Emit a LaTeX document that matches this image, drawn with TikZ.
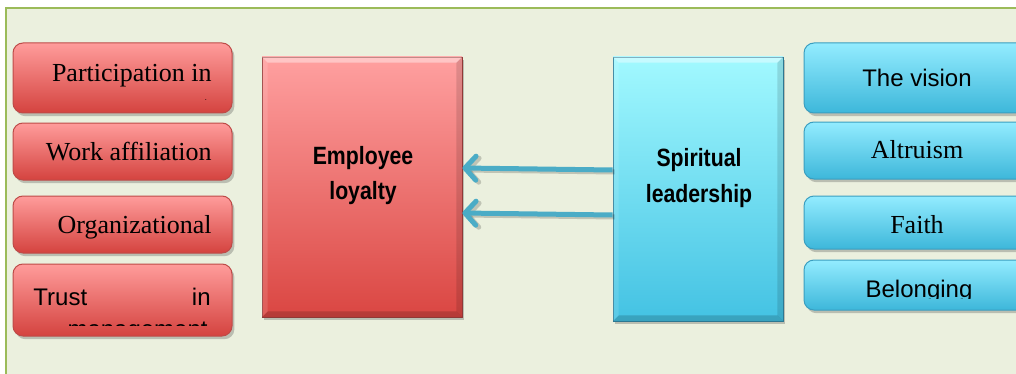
\documentclass[tikz,border=0pt]{standalone}
\usepackage{fontspec}
\setmainfont{Liberation Serif}
\setsansfont{Liberation Sans}
\newfontfamily\condsans[FakeStretch=0.85]{Liberation Sans}
\usetikzlibrary{shadows,arrows.meta}
\definecolor{bgfill}{RGB}{235,240,222}
\definecolor{bgline}{RGB}{155,187,89}
\definecolor{redtop}{RGB}{255,156,155}
\definecolor{redbot}{RGB}{212,67,63}
\definecolor{redline}{RGB}{190,75,72}
\definecolor{bluetop}{RGB}{147,236,255}
\definecolor{bluebot}{RGB}{61,183,218}
\definecolor{blueline}{RGB}{58,158,192}
\definecolor{sptop}{RGB}{162,249,255}
\definecolor{spbot}{RGB}{67,194,227}
\definecolor{emtop}{RGB}{255,160,160}
\definecolor{embot}{RGB}{218,70,66}
\definecolor{arrowc}{RGB}{75,172,198}
\tikzset{
  boxshadow/.style={drop shadow={opacity=0.3,shadow xshift=1.2pt,shadow yshift=-1.6pt,fill=black!70}},
  redbox/.style={rectangle,rounded corners=5pt,inner sep=0pt,top color=redtop,bottom color=redbot,draw=redline,line width=0.5pt,boxshadow},
  bluebox/.style={rectangle,rounded corners=5pt,inner sep=0pt,top color=bluetop,bottom color=bluebot,draw=blueline,line width=0.5pt,boxshadow},
  bigred/.style={rectangle,inner sep=0pt,top color=emtop,bottom color=embot,draw=redline!80!black,line width=0.4pt,boxshadow},
  bigblue/.style={rectangle,inner sep=0pt,top color=sptop,bottom color=spbot,draw=blueline!80!black,line width=0.4pt,boxshadow},
  sertxt/.style={inner sep=0pt,font=\fontsize{13}{15}\selectfont},
  sanstxt/.style={inner sep=0pt,font=\sffamily\fontsize{12}{14}\selectfont},
  boldtxt/.style={inner sep=0pt,font=\condsans\bfseries\fontsize{12.5}{14}\selectfont},
  conn/.style={draw=arrowc,line width=2.5pt,-{Straight Barb[length=5.5pt,width=12pt,line cap=round,line join=round]}},
  connshadow/.style={draw=black,opacity=0.18,line width=2.5pt,-{Straight Barb[length=5.5pt,width=12pt,line cap=round,line join=round]}}
}
\begin{document}
\begin{tikzpicture}[x=0.5pt,y=-0.5pt]
\useasboundingbox (0,0) rectangle (1016,374);
\clip (0,0) rectangle (1016,374);
\fill[white] (0,0) rectangle (1016,374);
\draw[fill=bgfill,draw=bgline,line width=1pt] (6,8) rectangle (1040,400);

% left boxes
\node[redbox,minimum width=109.5pt,minimum height=35pt] (l1) at (122.5,78) {};
\node[redbox,minimum width=109.5pt,minimum height=28.5pt] (l2) at (122.5,151.5) {};
\node[redbox,minimum width=109.5pt,minimum height=28.5pt] (l3) at (122.5,224.5) {};
\node[redbox,minimum width=109.5pt,minimum height=36pt] (l4) at (122.5,300) {};

\begin{scope}
\clip (13,43) rectangle (232,100);
\node[sertxt,anchor=base east] (t1a) at (212,82) {Participation in};
\node[sertxt,anchor=base east] (t1b) at (210,114.5) {management};
\end{scope}
\node[sertxt,anchor=base east] (t2) at (212,160) {Work affiliation};
\node[sertxt,anchor=base east] (t3) at (212,233) {Organizational};
\node[sanstxt,anchor=base west] (t4a) at (33,305) {Trust};
\node[sanstxt,anchor=base east] (t4b) at (211,305) {in};
\begin{scope}
\clip (13,264) rectangle (232,325.5);
\node[sanstxt,anchor=base east] (t4c) at (208,337.3) {management};
\end{scope}

% right boxes
\node[bluebox,minimum width=118pt,minimum height=35pt] (r1) at (922,78) {};
\node[bluebox,minimum width=118pt,minimum height=28.5pt] (r2) at (922,150.5) {};
\node[bluebox,minimum width=118pt,minimum height=26.5pt] (r3) at (922,222.5) {};
\node[bluebox,minimum width=118pt,minimum height=25pt] (r4) at (922,285) {};
\node[sanstxt,anchor=base] (s1) at (917,87) {The vision};
\node[sertxt,anchor=base] (s2) at (917,158) {Altruism};
\node[sertxt,anchor=base] (s3) at (917,233) {Faith};
\begin{scope}
\clip (804,260) rectangle (1040,298);
\node[sanstxt,anchor=base] (s4) at (919,297) {Belonging};
\end{scope}

% central boxes
\node[bigred,minimum width=100pt,minimum height=130pt] (emp) at (362,187) {};
\node[bigblue,minimum width=85pt,minimum height=132pt] (sp) at (698,189) {};
\foreach \n in {emp,sp}{
  \fill[white,opacity=.4] (\n.north west) -- (\n.north east) -- ([xshift=-3pt,yshift=-3pt]\n.north east) -- ([xshift=3pt,yshift=-3pt]\n.north west) -- cycle;
  \fill[black,opacity=.16] (\n.south west) -- (\n.south east) -- ([xshift=-3pt,yshift=3pt]\n.south east) -- ([xshift=3pt,yshift=3pt]\n.south west) -- cycle;
  \fill[black,opacity=.12] (\n.north east) -- (\n.south east) -- ([xshift=-3pt,yshift=3pt]\n.south east) -- ([xshift=-3pt,yshift=-3pt]\n.north east) -- cycle;
  \fill[white,opacity=.12] (\n.north west) -- (\n.south west) -- ([xshift=3pt,yshift=3pt]\n.south west) -- ([xshift=3pt,yshift=-3pt]\n.north west) -- cycle;
}
\node[boldtxt,anchor=base] (e1) at (363,164) {Employee};
\node[boldtxt,anchor=base] (e2) at (363,199) {loyalty};
\node[boldtxt,anchor=base] (p1) at (699,166) {Spiritual};
\node[boldtxt,anchor=base] (p2) at (699,202) {leadership};

% connectors
\draw[connshadow] ([xshift=1pt,yshift=8.5pt]sp.west) -- ([xshift=1.5pt,yshift=8.5pt]emp.east);
\draw[connshadow] ([xshift=1pt,yshift=-14pt]sp.west) -- ([xshift=1.5pt,yshift=-14pt]emp.east);
\draw[conn] ([yshift=9.5pt]sp.west) -- ([yshift=9.5pt]emp.east);
\draw[conn] ([yshift=-13pt]sp.west) -- ([yshift=-13pt]emp.east);
\end{tikzpicture}
\end{document}
